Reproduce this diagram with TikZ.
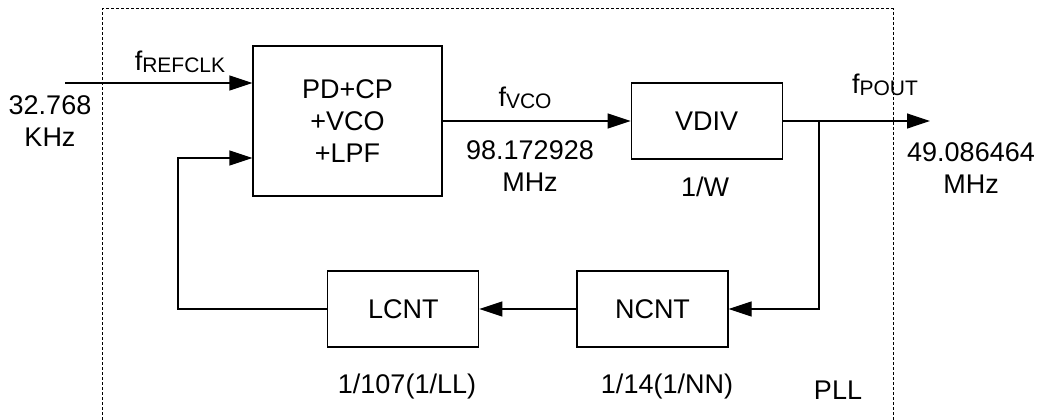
\documentclass[tikz,border=0pt]{standalone}
\usepackage{fontspec}
\setmainfont{Liberation Sans}
\usetikzlibrary{arrows.meta,positioning}
\tikzset{
  blokk/.style={draw,line width=1.2pt,minimum width=151pt,minimum height=76pt,inner sep=0pt,align=center},
  felirat/.style={inner sep=0pt,align=center},
  vonal/.style={line width=1.2pt},
  nyl/.style={line width=1.2pt,-{Triangle[length=23pt,width=15pt]}},
  keret/.style={line width=1pt,dash pattern=on 3pt off 2pt},
}
\newcommand{\alsz}[1]{\raisebox{-1.5pt}{\fontsize{21pt}{21pt}\selectfont #1}}

\begin{document}
\begin{tikzpicture}[x=1pt,y=-1pt,font={\fontsize{27pt}{32pt}\selectfont}]
  \useasboundingbox (0,0) rectangle (1038,420);
  % PLL keret (alul nyitott)
  \draw[keret] (102,420) -- (102,9) -- (893,9) -- (893,420);
  % blokkok
  \node[blokk,minimum width=189pt,minimum height=150pt] (pd) at (347.5,121) {PD+CP\\+VCO\\+LPF};
  \node[blokk,right=188pt of pd] (vdiv) {VDIV};
  \node[blokk] (ncnt) at (652.5,309) {NCNT};
  \node[blokk,left=97pt of ncnt] (lcnt) {LCNT};
  % szabad vegek
  \coordinate (be) at (65,83);
  \coordinate (vissza) at (178,158);
  \coordinate (ki) at (930,121);
  \coordinate (leag) at (819,121);
  % osszekotesek
  \draw[nyl] (be) -- (be -| pd.west);
  \draw[nyl] (pd.east |- vdiv.west) -- (vdiv.west);
  \draw[nyl] (vdiv.east) -- (ki);
  \draw[nyl] (leag) |- (ncnt.east);
  \draw[nyl] (ncnt.west) -- (lcnt.east);
  \draw[nyl] (lcnt.west) -| (vissza) -- (vissza -| pd.west);
  % feliratok
  \node[felirat] (frefclk) at (180,62) {f\alsz{REFCLK}};
  \node[felirat] (fbe) at (50,121) {32.768\\KHz};
  \node[felirat] (fvco) at (525,98) {f\alsz{VCO}};
  \node[felirat] (fvcoert) at (530,166) {98.172928\\MHz};
  \node[felirat] (fpout) at (885,85) {f\alsz{POUT}};
  \node[felirat] (fkiert) at (971,168) {49.086464\\MHz};
  \node[felirat] (w) at (705,187) {1/W};
  \node[felirat] (ll) at (407,387) {1/107(1/LL)};
  \node[felirat] (nn) at (667,387) {1/14(1/NN)};
  \node[felirat] (pll) at (838,390) {PLL};
\end{tikzpicture}
\end{document}
